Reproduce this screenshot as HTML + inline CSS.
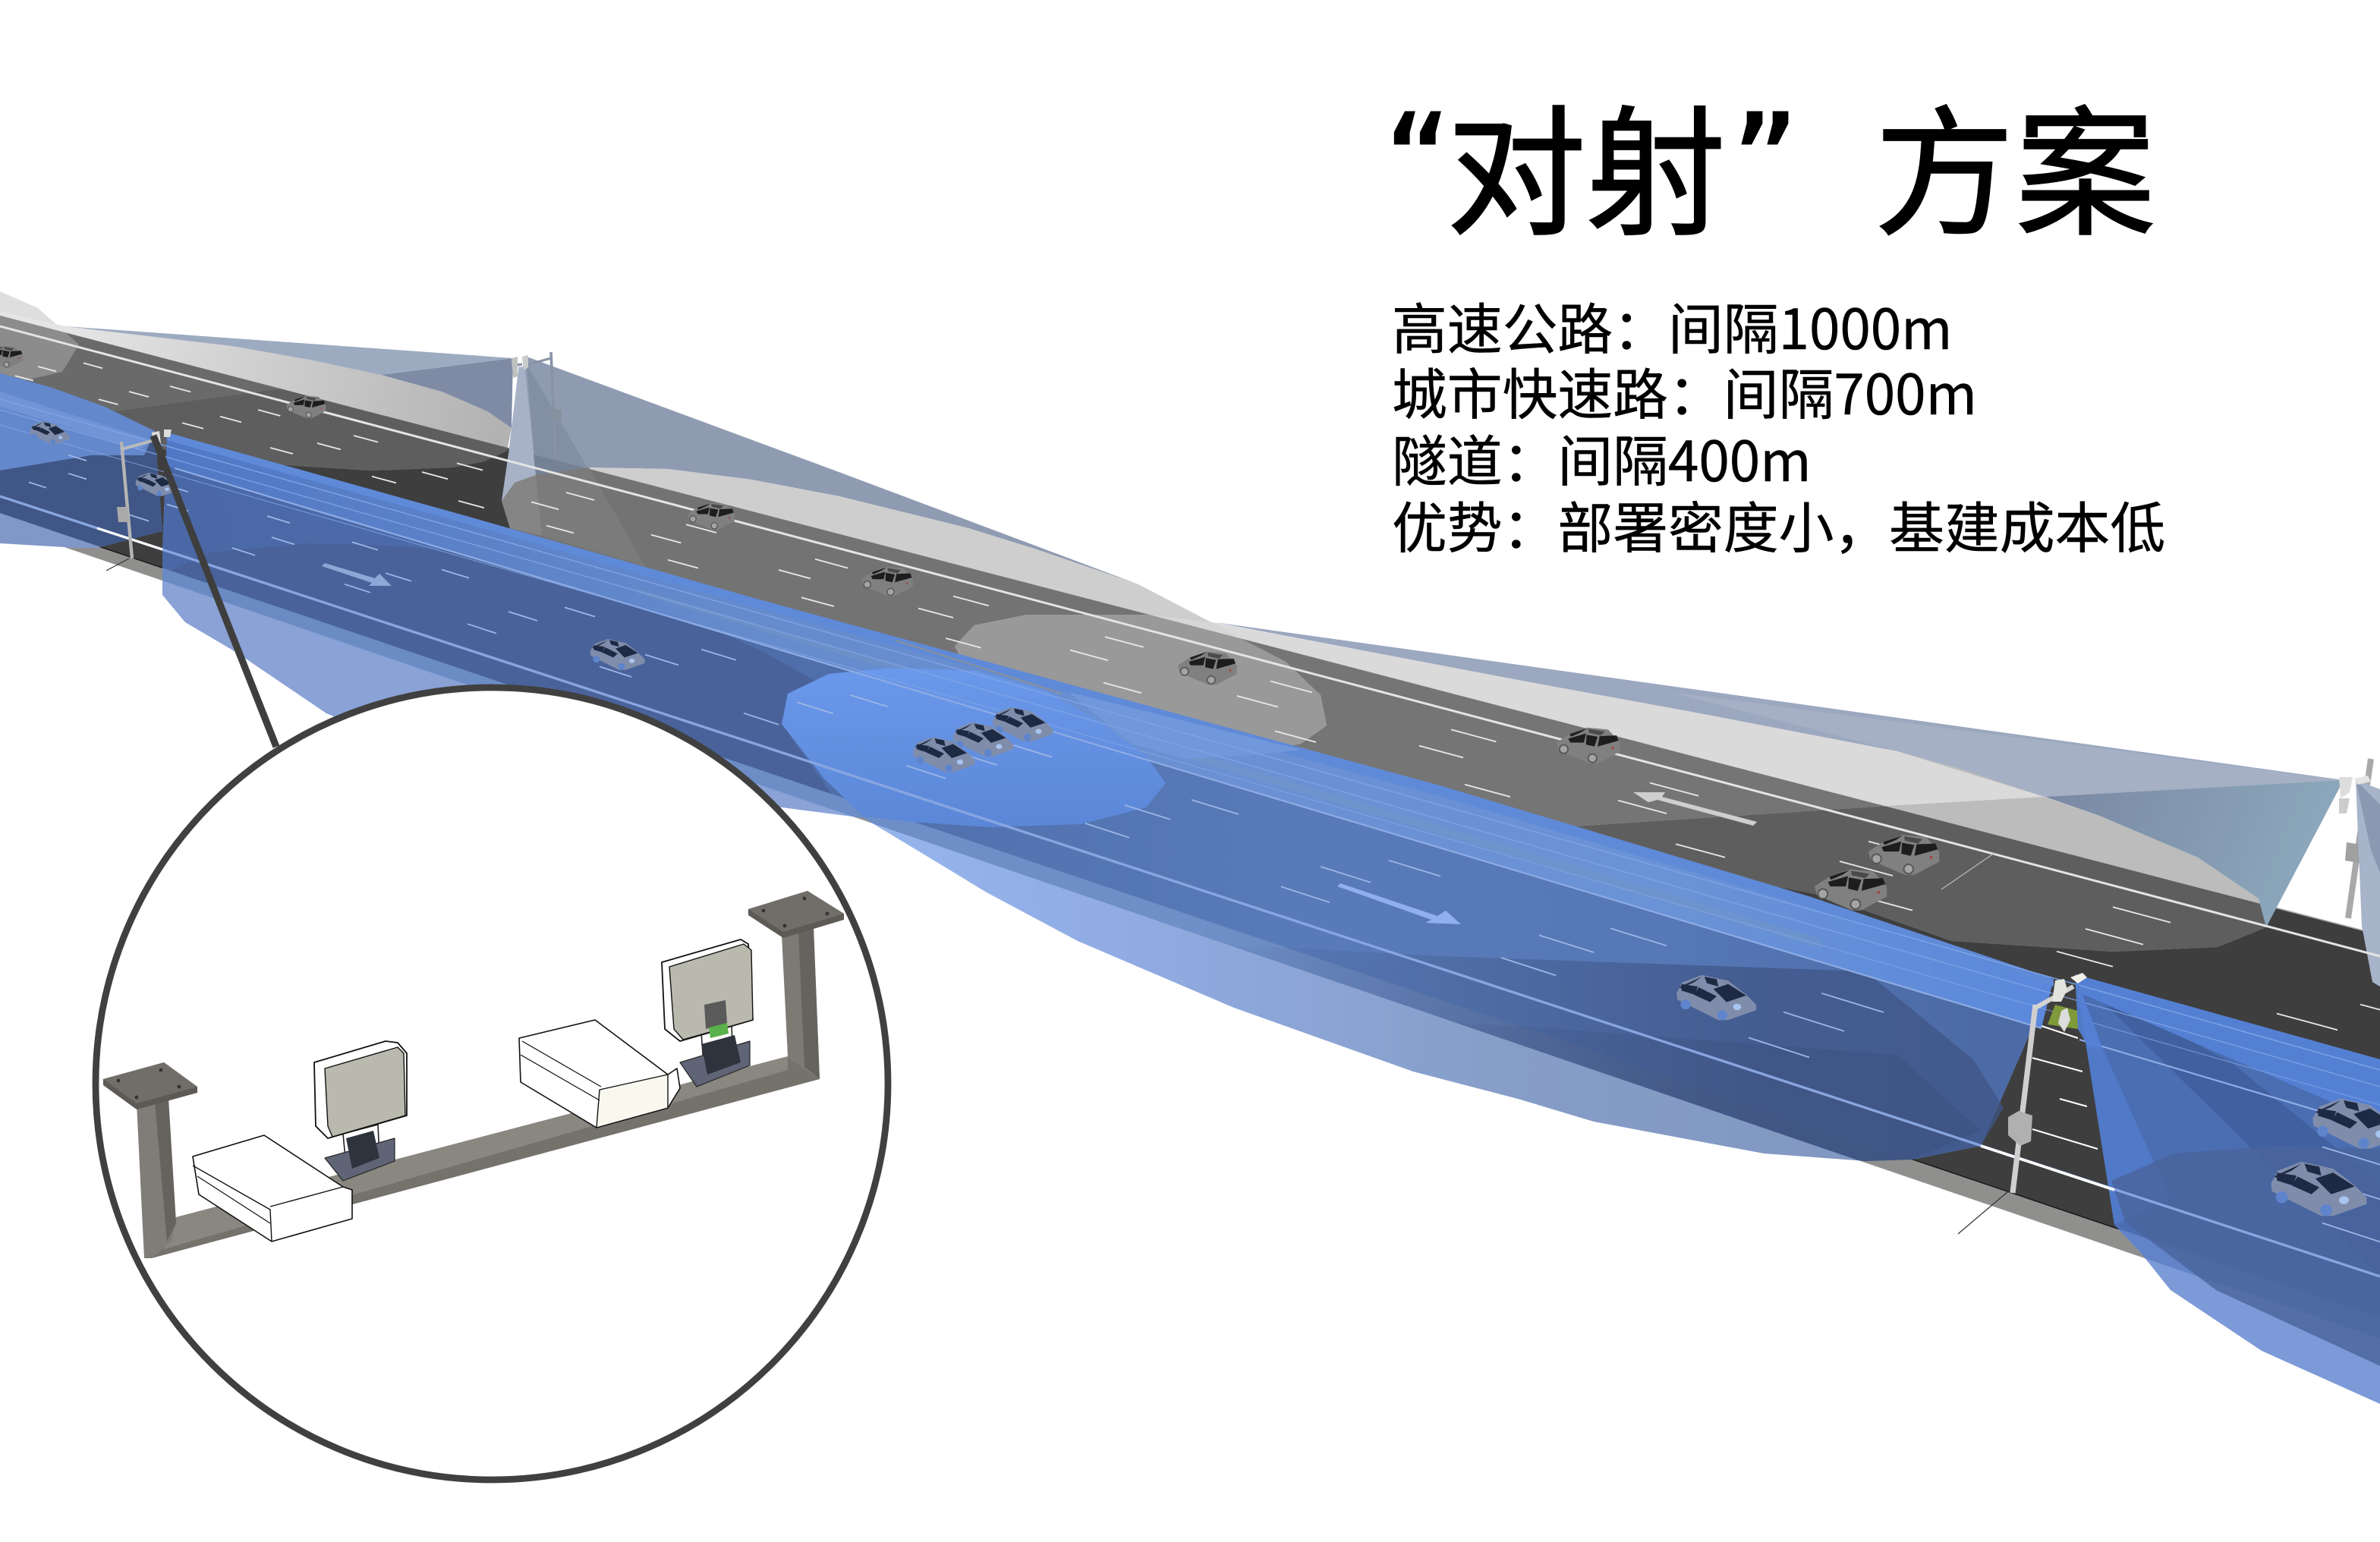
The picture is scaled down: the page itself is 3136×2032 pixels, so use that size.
<!DOCTYPE html>
<html><head><meta charset="utf-8"><style>
html,body{margin:0;padding:0;background:#fff}
svg{display:block}
text{font-family:"Noto Sans CJK SC","Liberation Sans",sans-serif;fill:#000}
.q{font-family:"DejaVu Sans",sans-serif}
</style></head><body>
<svg xmlns="http://www.w3.org/2000/svg" width="3136" height="2032" viewBox="0 0 1568 1016">
<defs>
<clipPath id="road"><polygon points="0,208 1568,616 1568,868 0,338"/></clipPath>
<clipPath id="curb"><polygon points="0,338 1568,868 1568,882 0,346"/></clipPath>
<clipPath id="rc"><polygon points="0,208 1568,616 1568,882 0,346"/></clipPath>
<clipPath id="circ"><circle cx="324" cy="714" r="261"/></clipPath>
<polygon id="f0" points="0,192 25,203 52,227 41,245 15,251 0,255"/>
<polygon id="f1" points="0,205 43,215 153,228 204,237 251,247 291,258 321,271 337,282 334,297 319,304 298,308 245,310 196,307 120,300 60,280 0,262"/>
<polygon id="f2" points="339,318 353,313 388,308 440,309 495,316 553,327 638,348 683,362 750,385 798,410 816,420 847,436 870,458 874,478 857,490 832,495 700,470 500,420 336,348 330.5,330"/>
<polygon id="f4" points="629,425 642,412 677,405 755,405 798,410 1000,448 1120,470 1250,495 1290,506 1382,537 1448,565 1488,592 1493,611 1461,624 1392,627 1286,620 1200,590 900,530 635,437"/>
<polygon id="t4" points="1347,525 1243,531 1044,544 780,560 629,425 642,412 677,405 755,405 798,410 1000,448 1120,470 1250,495"/>
<polygon id="lens" points="629,426 642,412 677,405 755,405 798,410 816,420 847,436 870,458 874,478 857,490 832,495 700,470 635,437"/>
<polygon id="o1" points="110,285 300,338 500,395 950,518 1193,591 1353,645 1305,755 1260,764 1229,765 1162,760 1050,739 1000,724 931,706 813,664 710,620 650,588 627,574 569,539 515,532 430,525 300,505 215,470 156,430 122,410 107,392 107,363"/>
<polygon id="o2" points="1367,642 1568,698 1568,925 1490,890 1430,850 1410,825 1393,807"/>
<polygon id="o3" points="102,284 69,268 33,255 0,246 0,358 51,361 64,361 107,350"/>
<polygon id="bcone" points="347,235 550,310 750,385 683,362 638,348 553,327 495,316 440,309 388,308 353,313 339,318 341,250"/>
<linearGradient id="gf1" gradientUnits="userSpaceOnUse" x1="50" y1="220" x2="330" y2="285"><stop offset="0" stop-color="#e4e4e4"/><stop offset="1" stop-color="#b2b2b2"/></linearGradient>
<linearGradient id="gdk" gradientUnits="userSpaceOnUse" x1="1347" y1="525" x2="1520" y2="590"><stop offset="0" stop-color="#7a88a3"/><stop offset="1" stop-color="#8ca8bc"/></linearGradient>
<linearGradient id="gouter" gradientUnits="userSpaceOnUse" x1="100" y1="0" x2="1250" y2="0"><stop offset="0" stop-color="#8aa2d6"/><stop offset=".38" stop-color="#8aa2d6"/><stop offset=".42" stop-color="#96b4ec"/><stop offset=".55" stop-color="#91ace4"/><stop offset=".78" stop-color="#869dc7"/><stop offset="1" stop-color="#8097c0"/></linearGradient>
<linearGradient id="gcurb" gradientUnits="userSpaceOnUse" x1="100" y1="0" x2="1250" y2="0"><stop offset="0" stop-color="#6a8ac4"/><stop offset=".6" stop-color="#6e8fc8"/><stop offset="1" stop-color="#5a6e98"/></linearGradient>
<linearGradient id="groad" gradientUnits="userSpaceOnUse" x1="107" y1="0" x2="1300" y2="0"><stop offset="0" stop-color="#4a68a6"/><stop offset=".37" stop-color="#4f6fab"/><stop offset=".62" stop-color="#587ab8"/><stop offset=".83" stop-color="#5678b6"/><stop offset="1" stop-color="#4c6ba6"/></linearGradient>
<linearGradient id="gband" gradientUnits="userSpaceOnUse" x1="110" y1="0" x2="1358" y2="0"><stop offset="0" stop-color="#5078c4"/><stop offset=".3" stop-color="#658bcc"/><stop offset=".5" stop-color="#6b90d2"/><stop offset=".8" stop-color="#6a92d6"/><stop offset="1" stop-color="#5a88dc"/></linearGradient>
<linearGradient id="gdark" gradientUnits="userSpaceOnUse" x1="800" y1="0" x2="1150" y2="0"><stop offset="0" stop-color="#3f5586" stop-opacity="0"/><stop offset="1" stop-color="#3f5586" stop-opacity=".75"/></linearGradient>
<linearGradient id="gdark2" gradientUnits="userSpaceOnUse" x1="900" y1="0" x2="1180" y2="0"><stop offset="0" stop-color="#3b4f7c" stop-opacity="0"/><stop offset="1" stop-color="#3b4f7c" stop-opacity=".5"/></linearGradient>
<linearGradient id="glens" gradientUnits="userSpaceOnUse" x1="0" y1="440" x2="0" y2="545"><stop offset="0" stop-color="#6a98ea"/><stop offset="1" stop-color="#5c87d8"/></linearGradient>
<g id="carF">
<polygon fill="#808080" points="-50,-4 -32,-16 -3,-27 29,-24 47,-4 47,10 13,28 0,28 -47,8"/>
<polygon fill="#1d1d1d" points="-32,-10 -5,-18 -8,-4 -29,-4"/>
<polygon fill="#1d1d1d" points="-4,-16 13,-13 8,2 -5,-1"/>
<polygon fill="#1d1d1d" points="16,-14 42,-15 45,-7 13,2"/>
<polygon fill="#1d1d1d" points="-30,-17 -3,-26 -12,-20 -28,-13"/>
<polygon fill="#4a4a4a" points="-1,-25 24,-21 18,-15 0,-19"/>
<circle cx="-39" cy="6" r="6.5" fill="#a4a4a4" stroke="#555" stroke-width="2"/><circle cx="5" cy="20" r="6.5" fill="#a4a4a4" stroke="#555" stroke-width="2"/>
<circle cx="36" cy="4" r="2" fill="#a04848"/>
</g>
<g id="carN">
<polygon fill="#7f8dab" points="-49,-5 -42,-18 -18,-27 14,-20 36,-3 48,9 48,16 14,28 2,28 -48,3"/>
<polygon fill="#1e2a44" points="-4,-10 14,-16 36,-2 12,6"/>
<polygon fill="#1e2a44" points="-46,-12 -18,-25 -28,-18 -44,-11"/>
<polygon fill="#1e2a44" points="-43,-16 -23,-13 -27,-3 -43,-8"/>
<polygon fill="#1e2a44" points="-22,-12 0,-1 -8,6 -28,-3"/>
<polygon fill="#1e2a44" points="-15,-25 0,-22 2,-13 -12,-17"/>
<polygon fill="#1e2a44" points="4,-22 30,-6 14,-16"/>
<circle cx="-38" cy="9" r="6" fill="#5e84cc"/><circle cx="7" cy="22" r="6" fill="#5e84cc"/>
<ellipse cx="25" cy="12" rx="5" ry="4" fill="#a8c4f0"/>
</g>
</defs>

<rect width="1568" height="1016" fill="#fff"/>
<!-- road -->
<polygon points="0,338 1568,868 1568,882 0,346" fill="#8f908e"/>
<polygon points="0,208 1568,616 1568,868 0,338" fill="#3e3e3e"/>
<line x1="0" y1="208" x2="1568" y2="616" stroke="#a8a8a8" stroke-width=".8"/>
<line x1="0" y1="338" x2="1568" y2="868" stroke="#151515" stroke-width=".7"/>

<!-- pole D behind cones -->
<line x1="1562" y1="500" x2="1547" y2="605" stroke="#a9a9a9" stroke-width="4"/>
<polygon points="1546,555 1559,557 1557,569 1545,567" fill="#a0a0a0"/>

<!-- gray: pole B left cone -->
<polygon points="338,236 43,215 186,256 251,247" fill="#9dabc1"/>
<use href="#f0" fill="#dedede"/>
<use href="#f0" fill="#8c8c8c" clip-path="url(#road)"/>
<use href="#f1" fill="url(#gf1)"/>
<use href="#f1" fill="#5e5e5e" clip-path="url(#road)"/>
<polygon points="186,256 76,271 0,281 0,208" fill="#6c6c6c" opacity=".9" clip-path="url(#road)"/>
<use href="#f0" fill="#8c8c8c" clip-path="url(#road)"/>
<polygon points="338,236 251,247 291,258 321,271 337,282" fill="#7f8ba5"/>

<!-- gray: pole B right cone -->
<use href="#bcone" fill="#8f9bb1"/>
<use href="#bcone" fill="#626c7c" clip-path="url(#road)"/>
<polygon points="347,240 387,308 353,313" fill="#7e8aa0" opacity=".7"/>
<use href="#f2" fill="#cecece"/>
<use href="#f2" fill="#737373" clip-path="url(#road)"/>
<polygon points="353,313 388,308 425,373 357,353" fill="#7b7b7b"/>
<polygon points="330.5,330 339,318 353,313 357,353 336,348" fill="#858585"/>
<polygon points="341.7,241.7 335.3,296.7 330.5,330 339,318 353,313 345.8,241.7" fill="#a7b2c7"/>

<!-- gray: pole D left cone -->
<polygon points="1544,514 800,410 1000,448 1250,495 1347,525" fill="#9ca8c0"/>
<polygon points="1544,514 1100,456 1250,495 1347,525" fill="#a8b2c6" opacity=".8"/>
<use href="#f4" fill="#bcbcbc"/>
<use href="#f4" fill="#5e5e5e" clip-path="url(#road)"/>
<use href="#t4" fill="#dadada"/>
<use href="#t4" fill="#757575" clip-path="url(#road)"/>
<use href="#lens" fill="#d6d6d6"/>
<use href="#lens" fill="#999" clip-path="url(#road)"/>
<polygon points="1544,514 1347,525 1382,537 1448,565 1488,592 1493,611" fill="url(#gdk)"/>
<!-- pole D right cone -->
<polygon points="1552,514 1568,520 1568,650 1563,647 1556,610" fill="#a7b4ca"/>
<polygon points="1552,514 1568,530 1568,575 1562,560" fill="#7f8ca8" opacity=".7"/>

<!-- far road lines -->
<line x1="0" y1="215" x2="1568" y2="630" stroke="#e4e4e4" stroke-width="1.5"/>
<g fill="none" stroke="#e8e8e8" stroke-width=".9">
<path d="M55 239.2l12.5 3.4M112 254.5l13.6 3.7M170 270l14.7 4M233 287l16 4.3M301 305.2l17 4.6M373 324.5l18.6 5M452 345.6l20 5.4M537 368.4l21.7 5.9M628 392.8l23.4 6.3M728 419.6l25.3 6.8M837 448.8l27.4 7.4M956 480.7l29.7 8M1087 515.8l32 8.6M1231 554.4l35 9.4M1392 597.6l38 10.2"/>
<path d="M25 241.5l12 3.2M85 258l13 3.5M145 274.4l14 3.8M209 292l15.5 4.2M278 311l17 4.6M350 330.7l18 4.9M429 352.4l19.7 5.3M513 375.5l21 5.7M605 400.8l23 6.2M705 428.3l25 6.8M815 458.5l27 7.3M935 491.4l29 7.8M1066 527.4l32 8.6M1212 567.5l35 9.5M1374 612l38 10.3M1555 661.8l41 11"/>
<path d="M10 247.6l12 3.2M65 263.1l12.7 3.4M120 278.6l14 3.8M178 295l15 4M245 313.9l16 4.3M302 330l17 4.6M360 346.3l18 4.9M440 368.9l20 5.4M528 393.7l21.5 5.8M623 420.5l23.3 6.3M727 449.8l25 6.8M840 481.7l27 7.3M965 516.9l30 8.1M1104 556.1l32.5 8.8M1225 590.3l35 9.5M1355 626.9l37 10M1500 667.8l40 10.8"/>
</g>
<line x1="1279" y1="586" x2="1314" y2="562" stroke="#bbb" stroke-width=".6"/>
<!-- far arrow -->
<polygon points="1076,522 1097,522 1095,525 1157.6,541.5 1155,544 1092,527 1086,528.6" fill="#cfcfcf"/>

<!-- far cars -->
<use href="#carF" transform="translate(3,235) scale(.26)"/>
<use href="#carF" transform="translate(202,268) scale(.27)"/>
<use href="#carF" transform="translate(469,340) scale(.32)"/>
<use href="#carF" transform="translate(585,383) scale(.35)"/>
<use href="#carF" transform="translate(796,440) scale(.4)"/>
<use href="#carF" transform="translate(1047,491) scale(.43)"/>
<use href="#carF" transform="translate(1255,563) scale(.48)"/>
<use href="#carF" transform="translate(1220,586) scale(.49)"/>

<!-- pole B (seen through cone) -->
<g stroke="#8a93a5" fill="none">
<line x1="363" y1="232" x2="366" y2="302" stroke-width="1.8"/>
<line x1="363" y1="236" x2="345" y2="241" stroke-width="1.6"/>
<line x1="337" y1="241" x2="344" y2="240" stroke-width="1.6"/>
</g>
<polygon points="363,269 370,270 370,277 364,278" fill="#88919f"/>
<polygon points="337,236 341,235 341,248 338,249" fill="#c0c2c2"/>
<polygon points="344,235 348,234 348,242 345,244" fill="#c8cacc"/>

<!-- blue A→C -->
<use href="#o1" fill="url(#gouter)"/>
<use href="#o1" fill="url(#gcurb)" clip-path="url(#curb)"/>
<use href="#o1" fill="url(#groad)" clip-path="url(#road)"/>
<polygon points="107,378 138,364 204,358 268,360 332,367 400,382 500,428 540,450 515,477 560,540 300,470" fill="#49639a" clip-path="url(#road)"/>
<polygon points="800,622 950,630 1229,640 1300,698 1320,730 1305,755 1260,764 1229,765 1162,760 1050,739 1000,724 931,706 800,660" fill="url(#gdark)" clip-path="url(#rc)"/>
<polygon points="900,672 1000,676 1250,695 1305,745 1260,764 1229,765 1162,760 1050,739 1000,724" fill="url(#gdark2)" clip-path="url(#rc)"/>
<polygon points="110,285 300,338 500,395 950,518 1193,591 1353,645 1345,677 110,307" fill="url(#gband)"/>
<polygon points="420,388 1200,618.5 1200,625 420,391" fill="#7699c0" opacity=".4"/>
<polygon points="110,285 300,338 500,395 950,518 1193,591 1353,645 1353,650 1193,598 950,525 500,401 300,343 110,290" fill="#5f8ad8"/>
<polygon points="704,456 857,494 832,497 780,500 745,490" fill="#7198da"/>
<polygon points="519,457 546,444 587,440 643,442 688,455 727,477 755,498 768,516 755,532 712,543 653,545 607,542 569,538 543,513 515,477" fill="url(#glens)"/>
<line x1="590" y1="422" x2="700" y2="457" stroke="#8a9098" stroke-width="1"/>

<!-- blue left of pole A -->
<use href="#o3" fill="#8097c8"/>
<use href="#o3" fill="#3f5686" clip-path="url(#road)"/>
<polygon points="0,246 33,255 69,268 102,284 95,300 60,300 0,310" fill="#6388cc"/>
<polygon points="0,258 100,290 92,296 0,268" fill="#7a9cdc" opacity=".6"/>

<!-- blue right of pole C -->
<use href="#o2" fill="#7c9ad8"/>
<use href="#o2" fill="#6283c8" clip-path="url(#curb)"/>
<use href="#o2" fill="#4b6db2" clip-path="url(#road)"/>
<polygon points="1367,642 1393,807 1430,790 1385,690" fill="#5079c8"/>
<polygon points="1375,650 1568,840 1568,780 1470,700" fill="#41609f"/>
<polygon points="1391,778 1432,760 1500,755 1568,757 1568,900 1460,850 1400,805" fill="#4a649c" opacity=".8"/>
<polygon points="1367,642 1568,698 1568,740 1372,655" fill="#5480d4"/>

<!-- near road lines -->
<g fill="none" stroke="#7d9bdc">
<line x1="115" y1="308.5" x2="1345" y2="677.5" stroke="#8eabe4" stroke-width="1.1"/>
<line x1="1370" y1="685" x2="1568" y2="744" stroke="#8eabe4" stroke-width="1.1"/>
<line x1="0" y1="263" x2="1568" y2="705" stroke="#7fa4e6" stroke-width=".7"/>
<line x1="0" y1="270" x2="1568" y2="716" stroke="#83a6e6" stroke-width=".7" opacity=".8"/>
<line x1="0" y1="280" x2="1568" y2="728" stroke="#83a6e6" stroke-width=".6" opacity=".7"/>
<line x1="0" y1="327" x2="1568" y2="841" stroke="#88a5e0" stroke-width="1.7"/>
</g>
<g fill="none" stroke="#9db6e6" stroke-width=".9">
<path d="M19 317.7l11.5 3.7M85 339.1l13 4.2M153 361l15 4.9M227 384.9l17 5.5M308 411.1l19 6.2M395 439.2l21 6.8M490 469.9l23 7.5M597 504.4l26 8.5M715 542.5l29 9.4M844 584.2l32 10.4M989 631l36 11.7M1152 683.7l40 13M1530 805.8l49 16"/>
<path d="M45 311.9l12 3.8M110 332.3l14 4.4M179 354l15 4.7M254 377.6l17 5.3M335 403l19 6M425 431.3l22 6.9M525 462.7l24 7.5M630 495.6l27 8.5M741 530.5l30 9.4M870 571l33 10.4M1014 616.2l36 11.3M1175 666.8l40 12.6M1550 784.5l50 15.7"/>
<path d="M45 299.8l12 3.7M110 319.8l14 4.3M176 340l15 4.6M232 357.2l17 5.2M291 375.3l18 5.5M372 400.2l20 6.1M462 427.8l23 7.1M560 457.9l25 7.7M665 490.2l28 8.6M785 527l31 9.5M915 566.9l34 10.4M1061 611.7l37 11.4M1200 654.4l41 12.6M1530 755.7l49 15"/>
</g>
<!-- white segments in gaps -->
<g stroke="#fff" fill="none">
<line x1="1305" y1="755" x2="1393" y2="784" stroke-width="1.8"/>
<line x1="64" y1="348" x2="107" y2="362" stroke-width="1.6"/>
<line x1="1339" y1="744" x2="1382" y2="757" stroke-width="1"/>
<line x1="1357" y1="724" x2="1375" y2="729" stroke-width="1"/>
<line x1="1339" y1="697" x2="1372" y2="706" stroke-width="1"/>
<line x1="1345" y1="676" x2="1369" y2="684" stroke-width="1"/>
</g>
<!-- near arrows -->
<polygon points="212,373 214,371 247,381 250,378 258,386 243,386 245,384" fill="#8da7d6"/>
<polygon points="881,584 883,582 947,603.5 952.5,600 962.5,609 939,608 943,606" fill="#8fb0ec"/>

<!-- near cars -->
<use href="#carN" transform="translate(33,285) scale(.27)"/>
<use href="#carN" transform="translate(103,319) scale(.28)"/>
<use href="#carN" transform="translate(407,431) scale(.37)"/>
<use href="#carN" transform="translate(674,477) scale(.41)"/>
<use href="#carN" transform="translate(648,487) scale(.41)"/>
<use href="#carN" transform="translate(622,497) scale(.42)"/>
<use href="#carN" transform="translate(1131,657) scale(.54)"/>
<use href="#carN" transform="translate(1553,740) scale(.6)"/>
<use href="#carN" transform="translate(1528,783) scale(.65)"/>

<!-- green median -->
<polygon points="1349,675 1354,662 1369,666 1369,678" fill="#7e9a3a"/>
<polygon points="1367,642 1369,678 1376,690 1385,690" fill="#5480d4" opacity=".9"/>

<!-- pole C -->
<polyline points="1341,662 1326,786" fill="none" stroke="#cfcfcf" stroke-width="3.6"/>
<line x1="1341" y1="664" x2="1366" y2="650" stroke="#d4d4d4" stroke-width="3"/>
<polygon points="1323,736 1330,732 1339,735 1338,752 1331,755 1323,748" fill="#b0b0b0"/>
<polygon points="1354,646 1360,645 1362,652 1358,660 1352,660" fill="#e4e4de"/>
<polygon points="1358,666 1362,664 1364,672 1360,680 1356,674" fill="#dcdcdc"/>
<polygon points="1364,644 1372,641 1375,644 1369,648" fill="#f0f0e8"/>
<line x1="1290" y1="813" x2="1323" y2="785" stroke="#333" stroke-width=".6"/>
<!-- pole A -->
<line x1="80" y1="291" x2="87" y2="368" stroke="#b4b4b4" stroke-width="2.2"/>
<line x1="80" y1="296" x2="102" y2="290" stroke="#bbb" stroke-width="2"/>
<polygon points="77,334 84,334 85,344 78,344" fill="#aaa"/>
<polygon points="100,285 105,284 106,292 101,293" fill="#ddd"/>
<polygon points="108,283 113,283 112,288 108,288" fill="#ddd"/>
<line x1="70" y1="376" x2="85" y2="368" stroke="#333" stroke-width=".6"/>
<!-- pole D sensors -->
<polygon points="1541,512 1550,512 1548,522 1542,526" fill="#ddd"/>
<polygon points="1541,526 1548,526 1546,536 1541,536" fill="#ccc"/>
<polygon points="1551,513 1560,511 1562,515 1553,517" fill="#e4e4e4"/>

<!-- leader -->
<line x1="101" y1="287" x2="182" y2="492" stroke="#3e3e3e" stroke-width="4.6"/>
<!-- circle -->
<circle cx="324" cy="714" r="261" fill="#fff" stroke="#404040" stroke-width="4.4"/>
<g clip-path="url(#circ)" stroke-linejoin="round">
<!-- bracket -->
<polygon points="100,829 116,802 519,696 540,711" fill="#75726c"/>
<polygon points="108,823 519,705 519,696 116,802" fill="#8a8780"/>
<polygon points="90,727 111,724 116,806 113,818 100,829 95,829" fill="#807d78"/>
<polygon points="102,726 111,724 116,806 110,818" fill="#66635e"/>
<polygon points="515,616 536,611 540,711 519,696" fill="#7d7a74"/>
<polygon points="526,614 536,611 540,711 530,703" fill="#66635e"/>
<polygon points="68,711 108,700 130,716 130,720 90,731 68,715" fill="#5d5a55"/>
<polygon points="68,711 108,700 130,716 90,727" fill="#716e69"/>
<polygon points="493,599 532,587 556,602 556,606 516,618 493,603" fill="#5d5a55"/>
<polygon points="493,599 532,587 556,602 516,614" fill="#716e69"/>
<g fill="#333"><circle cx="78" cy="712" r="1.2"/><circle cx="106" cy="705" r="1.2"/><circle cx="118" cy="716" r="1.2"/><circle cx="90" cy="723" r="1.2"/><circle cx="503" cy="600" r="1.2"/><circle cx="530" cy="592" r="1.2"/><circle cx="545" cy="602" r="1.2"/><circle cx="517" cy="610" r="1.2"/></g>
<!-- left sensor -->
<polygon points="226,747 249,741 250,763 228,768" fill="#fff" stroke="#222" stroke-width=".8"/>
<polygon points="214,763 260,750 260,765 226,778" fill="#5f6576" stroke="#222" stroke-width=".6"/>
<polygon points="228,750 246,745 250,763 232,770" fill="#2f333d"/>
<polygon points="207,700 254,686 262,687 268,694 268,735 216,750 208,742" fill="#fff" stroke="#111" stroke-width=".9"/>
<polygon points="214,704 262,690 266,694 267,735 219,749 216,742" fill="#b9b9ad" stroke="#111" stroke-width=".7"/>
<!-- right sensor -->
<polygon points="462,680 482,675 483,702 464,708" fill="#fff" stroke="#222" stroke-width=".8"/>
<polygon points="448,700 494,686 494,702 459,716" fill="#5f6576" stroke="#222" stroke-width=".6"/>
<polygon points="462,688 484,682 488,700 466,708" fill="#2f333d"/>
<polygon points="436,634 488,619 493,622 496,672 448,686 438,678" fill="#fff" stroke="#111" stroke-width=".9"/>
<polygon points="441,637 490,622 495,626 496,672 450,685 444,678" fill="#b9b9ad" stroke="#111" stroke-width=".7"/>
<polygon points="464,662 478,659 479,674 465,678" fill="#5a5a5a"/>
<polygon points="467,677 479,674 480,681 468,684" fill="#5ab04a"/>
<!-- white boxes -->
<polygon points="127,762 174,748 226,782 232,784 232,803 179,818 131,787" fill="#fff" stroke="#111" stroke-width=".8"/>
<polyline points="127,768 178,797 179,818" fill="none" stroke="#111" stroke-width=".7"/>
<polyline points="178,795 226,782" fill="none" stroke="#111" stroke-width=".7"/>
<line x1="130" y1="775" x2="178" y2="806" stroke="#111" stroke-width=".6"/>
<polygon points="342,684 392,672 440,708 446,704 448,717 440,730 393,743 343,713" fill="#fff" stroke="#111" stroke-width=".8"/>
<polygon points="395,718 440,708 440,730 393,743" fill="#f8f8ef" stroke="#111" stroke-width=".7"/>
<line x1="343" y1="695" x2="395" y2="725" stroke="#111" stroke-width=".6"/>
<line x1="344" y1="686" x2="396" y2="716" stroke="#111" stroke-width=".6"/>
</g>

<!-- text -->
<text class="q" font-size="85" y="136" x="912" stroke="#000" stroke-width="1.6">“</text>
<text class="q" font-size="85" y="136" x="1141" stroke="#000" stroke-width="1.6">”</text>
<text font-size="92" y="147" x="953 1045" stroke="#000" stroke-width="1.2">对射</text>
<text font-size="92" y="147" x="1235 1328" stroke="#000" stroke-width="1.2">方案</text>
<g stroke="#000" stroke-width=".25">
<text font-size="36.4" x="917" y="230">高速公路：间隔1000m</text>
<text font-size="36.4" x="917" y="273">城市快速路：间隔700m</text>
<text font-size="36.4" x="917" y="317">隧道：间隔400m</text>
<text font-size="36.4" x="917" y="361">优势：部署密度小，基建成本低</text>
</g>
</svg>
</body></html>
